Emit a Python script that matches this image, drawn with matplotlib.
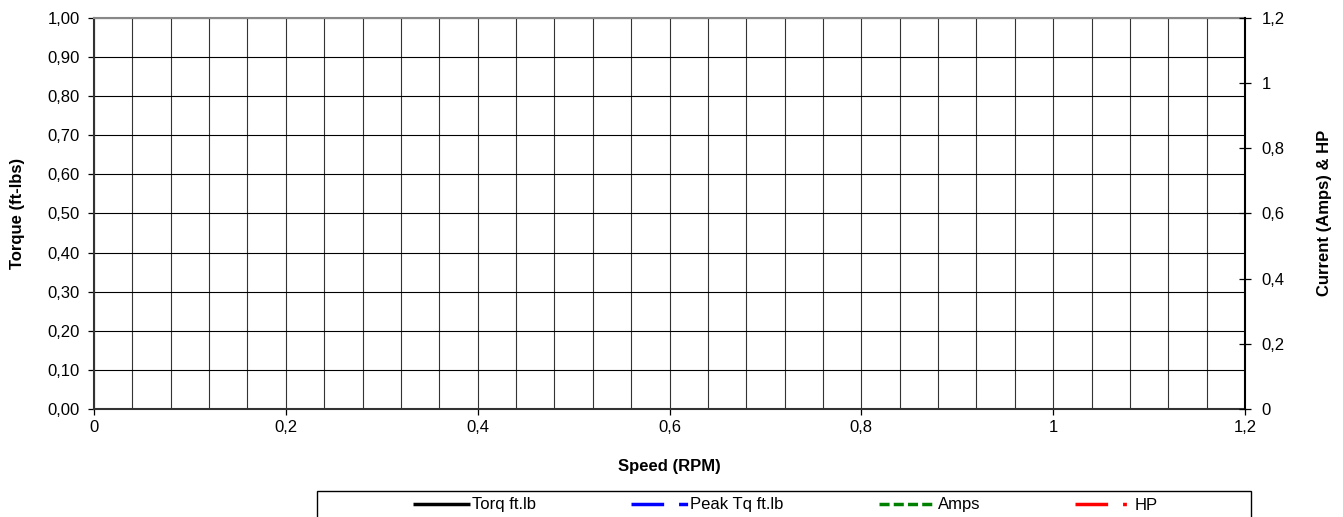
import numpy as np
import matplotlib
matplotlib.use("Agg")
import matplotlib.pyplot as plt
from matplotlib.ticker import MultipleLocator, FuncFormatter
from matplotlib.patches import Rectangle

plt.rcParams['font.family'] = ['Liberation Sans', 'DejaVu Sans']

# series (the sheet has no data rows yet, so every series is empty)
speed = []
torque = []
peak_tq = []
amps = []
hp = []

series_names = ["Torq ft.lb", "Peak Tq ft.lb", "Amps", "HP"]

x_max = 1.2
y_left_max = 1.0
y_right_max = 1.2

W, H = 1343, 517
FS = 12


def virgula(fmt):
    def f(v, pos):
        return fmt(v).replace('.', ',')
    return FuncFormatter(f)


fig = plt.figure(figsize=(W / 100, H / 100), dpi=100)
ax = fig.add_axes([94 / W, 1 - 409 / H, (1245 - 94) / W, (409 - 18) / H])
ax2 = ax.twinx()

l1, = ax.plot(speed, torque, color='black', lw=2.5, solid_capstyle='butt')
l2, = ax.plot(speed, peak_tq, color='#0000ff', lw=2.5, dashes=(9.4, 4.3, 2.6, 4.3))
l3, = ax2.plot(speed, amps, color='#008000', lw=2.5, dashes=(2.9, 1.2))
l4, = ax2.plot(speed, hp, color='#ff0000', lw=2.5, dashes=(9.4, 4.3, 1.1, 4.3))

ax.set_xlim(0, x_max)
ax.set_ylim(0, y_left_max)
ax2.set_ylim(0, y_right_max)

# grid
ax.xaxis.set_major_locator(MultipleLocator(0.2))
ax.xaxis.set_minor_locator(MultipleLocator(0.04))
ax.yaxis.set_major_locator(MultipleLocator(0.1))
ax.grid(True, which='both', axis='x', color='#333333', lw=0.8)
ax.grid(True, which='major', axis='y', color='black', lw=0.8)
ax.set_axisbelow(True)

ax.xaxis.set_major_formatter(virgula(lambda v: "%g" % round(v, 2)))
ax.yaxis.set_major_formatter(virgula(lambda v: "%.2f" % v))
ax2.yaxis.set_major_locator(MultipleLocator(0.2))
ax2.yaxis.set_major_formatter(virgula(lambda v: "%g" % round(v, 2)))

ax.tick_params(axis='x', which='major', direction='out', length=4, width=0.9,
               labelsize=FS, pad=4, color='black')
ax.tick_params(axis='x', which='minor', length=0)
ax.tick_params(axis='y', direction='out', length=4, width=0.9, labelsize=FS, pad=6)
ax2.tick_params(axis='y', direction='inout', length=8, width=0.9, labelsize=FS, pad=8)

for sp in ['left', 'bottom']:
    ax.spines[sp].set_color('#333333')
    ax.spines[sp].set_linewidth(1.5)
ax.spines['top'].set_color('#888888')
ax.spines['top'].set_linewidth(1.5)
ax.spines['right'].set_visible(False)
ax2.spines['left'].set_visible(False)
ax2.spines['bottom'].set_visible(False)
ax2.spines['top'].set_visible(False)
ax2.spines['right'].set_color('black')
ax2.spines['right'].set_linewidth(1.5)

# axis titles
fig.text(669 / W, 1 - 467 / H, "Speed (RPM)", fontsize=FS, fontweight='bold',
         ha='center', va='center')
fig.text(18 / W, 1 - 213 / H, "Torque (ft-lbs)", fontsize=FS, fontweight='bold',
         ha='center', va='center', rotation=90)
fig.text(1325 / W, 1 - 213 / H, "Current (Amps) & HP", fontsize=FS, fontweight='bold',
         ha='center', va='center', rotation=90)

# legend box (runs off the bottom edge like the original sheet)
fig.patches.append(Rectangle((317 / W, -0.02), (1251 - 317) / W, 0.02 + (517 - 491) / H,
                             transform=fig.transFigure, fill=False,
                             edgecolor='black', lw=1.0, clip_on=False))
leg = fig.legend([l1, l2, l3, l4], series_names, ncol=4,
                 loc='center left', bbox_to_anchor=(413 / W, 1 - 505 / H),
                 frameon=False, fontsize=FS, handlelength=3.4, handletextpad=0.15,
                 borderpad=0, borderaxespad=0, columnspacing=5.7)

fig.savefig("out.png", dpi=100)
